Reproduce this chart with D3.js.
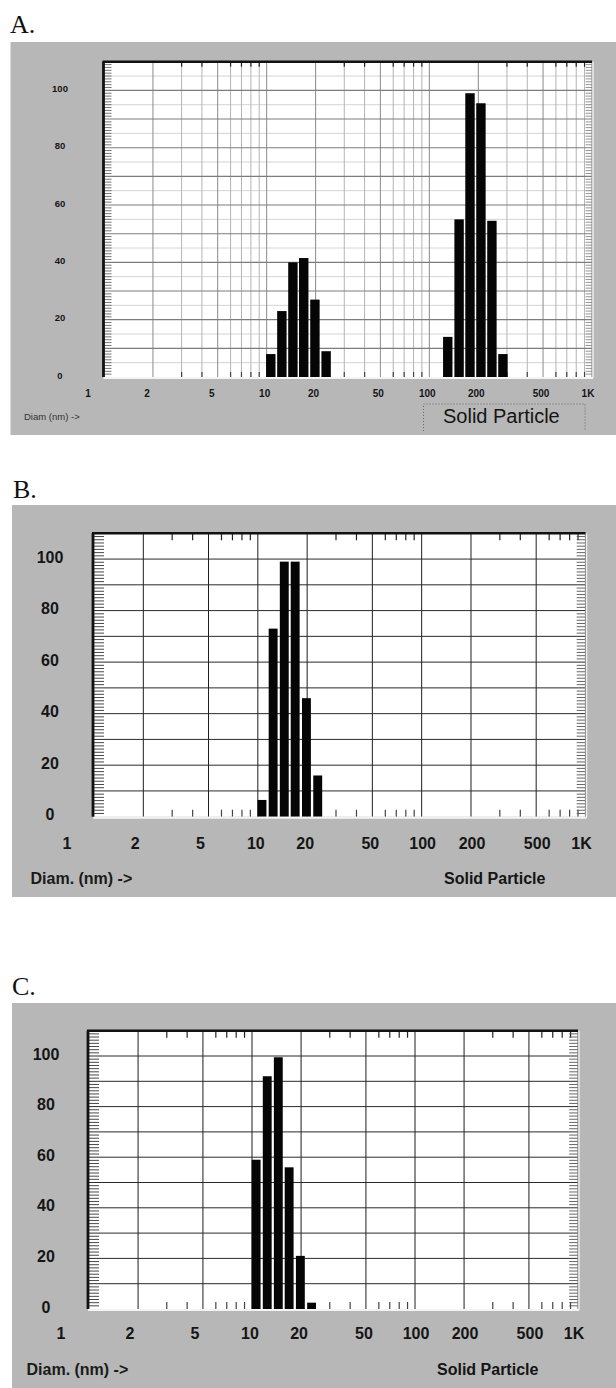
<!DOCTYPE html>
<html>
<head>
<meta charset="utf-8">
<script src="https://cdn.jsdelivr.net/npm/d3@7/dist/d3.min.js"></script>
<style>
  html, body { margin: 0; padding: 0; background: #ffffff; }
  svg { display: block; }
</style>
</head>
<body>
<script>
// ---------------- DATA ----------------
const panelTitles = ["A.", "B.", "C."];
const diamTickValues = [1, 2, 5, 10, 20, 50, 100, 200, 500, 1000];
const diamTickLabels = ["1", "2", "5", "10", "20", "50", "100", "200", "500", "1K"];
const intensityTicks = [0, 20, 40, 60, 80, 100];
const binsSmall = [10.6, 12.4, 14.5, 16.9, 19.8, 23.2];      // nm
const binsLarge = [129.8, 152.4, 177.8, 207.6, 242.5, 283.4]; // nm
const valuesA = [8, 23, 40, 41.5, 27, 9, 14, 55, 99, 95.5, 54.5, 8];
const valuesB = [6.5, 73, 99, 99, 46, 16];
const valuesC = [59, 92, 99.5, 56, 21, 2.5];
const xAxisTitleA = "Diam (nm) ->";
const xAxisTitleBC = "Diam. (nm) ->";
const modeLabel = "Solid Particle";

// ---------------- LAYOUT / STYLE ----------------
const W = 616, H = 1388;
const svg = d3.select("body").append("svg").attr("width", W).attr("height", H);
const sans = "'Liberation Sans', Arial, Helvetica, sans-serif";
const serif = "'Liberation Serif', 'Times New Roman', serif";
const grayBg = "#b7b7b7";

const binRatio = Math.pow(binsSmall[binsSmall.length - 1] / binsSmall[0], 1 / (binsSmall.length - 1));

const panels = [
  { title: panelTitles[0], titleX: 10, titleY: 33,
    box: [10.5, 42, 616, 435], plot: [103.5, 61.7, 592, 377], xr: [104, 592],
    diam: binsSmall.concat(binsLarge), vals: valuesA, style: "A",
    yLabX: 60, yLabSize: 9.5, xLabY: 397, xLabSize: 10, firstDx: -16,
    axisTitle: xAxisTitleA, axisTitleX: 24, axisTitleY: 420, axisTitleSize: 9.5,
    modeX: 443, modeY: 423, modeSize: 20, barFill: 0.85 },
  { title: panelTitles[1], titleX: 13, titleY: 498,
    box: [12, 505, 616, 897], plot: [93, 533.3, 585.5, 816.7], xr: [94, 585.5],
    diam: binsSmall, vals: valuesB, style: "B",
    yLabX: 50, yLabSize: 16, xLabY: 848.5, xLabSize: 16, firstDx: -27,
    axisTitle: xAxisTitleBC, axisTitleX: 30.5, axisTitleY: 884, axisTitleSize: 16,
    modeX: 444, modeY: 884, modeSize: 16, barFill: 0.80 },
  { title: panelTitles[2], titleX: 12, titleY: 995,
    box: [12, 1003, 616, 1388], plot: [88, 1030.7, 578, 1309], xr: [89, 578],
    diam: binsSmall, vals: valuesC, style: "C",
    yLabX: 46, yLabSize: 16, xLabY: 1339, xLabSize: 16, firstDx: -28,
    axisTitle: xAxisTitleBC, axisTitleX: 26.5, axisTitleY: 1375, axisTitleSize: 16,
    modeX: 437, modeY: 1375, modeSize: 16, barFill: 0.80 }
];

function labelDx(v, p) {
  if (v === 1) return p.firstDx;
  if (v === 2 || v === 5) return p.style === "A" ? -6 : -8;
  if (v === 1000) return -4;
  if (v >= 100 && p.style !== "A") return 1;
  return -2;
}

panels.forEach(p => {
  const g = svg.append("g");
  const [bx0, by0, bx1, by1] = p.box;
  const [px0, py0, px1, py1] = p.plot;

  // title
  g.append("text").attr("x", p.titleX).attr("y", p.titleY)
    .attr("font-family", serif).attr("font-size", 26).attr("fill", "#111")
    .text(p.title);

  // gray panel
  g.append("rect").attr("x", bx0).attr("y", by0)
    .attr("width", bx1 - bx0).attr("height", by1 - by0).attr("fill", grayBg);

  // scales
  const x = d3.scaleLog().domain([1, 1000]).range(p.xr);
  const y = d3.scaleLinear().domain([0, 110]).range([py1, py0]);

  // plot background
  g.append("rect").attr("x", px0).attr("y", py0)
    .attr("width", px1 - px0).attr("height", py1 - py0).attr("fill", "#ffffff");

  const grid = g.append("g");
  const allLogTicks = x.ticks().filter(v => v > 1 && v < 1000);
  const leading = v => Math.round(v / Math.pow(10, Math.floor(Math.log10(v) + 1e-9)));
  const majorX = diamTickValues.filter(v => v > 1 && v < 1000);

  if (p.style === "A") {
    // faint horizontal lines every 5
    d3.range(5, 110, 10).forEach(v => {
      grid.append("line").attr("x1", px0).attr("x2", px1)
        .attr("y1", y(v)).attr("y2", y(v))
        .attr("stroke", "#d4d4d4").attr("stroke-width", 1);
    });
    // vertical lines at all 1..9 multiples
    allLogTicks.forEach(v => {
      const isMajor = majorX.includes(v);
      grid.append("line").attr("x1", x(v)).attr("x2", x(v))
        .attr("y1", py0).attr("y2", py1)
        .attr("stroke", isMajor ? "#8a8a8a" : "#b4b4b4").attr("stroke-width", 1);
    });
    // horizontal every 10
    d3.range(10, 110, 10).forEach(v => {
      grid.append("line").attr("x1", px0).attr("x2", px1)
        .attr("y1", y(v)).attr("y2", y(v))
        .attr("stroke", "#7c7c7c").attr("stroke-width", 1.1);
    });
  } else {
    majorX.forEach(v => {
      grid.append("line").attr("x1", x(v)).attr("x2", x(v))
        .attr("y1", py0).attr("y2", py1)
        .attr("stroke", "#1e1e1e").attr("stroke-width", 1);
    });
    d3.range(10, 110, 10).forEach(v => {
      grid.append("line").attr("x1", px0).attr("x2", px1)
        .attr("y1", y(v)).attr("y2", y(v))
        .attr("stroke", "#2a2a2a").attr("stroke-width", 1);
    });
  }

  // minor ticks along top & bottom edges (3,4,6,7,8,9 in each decade)
  const minorX = allLogTicks.filter(v => ![1, 2, 5].includes(leading(v)));
  const tickLen = p.style === "A" ? 5 : 7;
  minorX.forEach(v => {
    grid.append("line").attr("x1", x(v)).attr("x2", x(v))
      .attr("y1", py0).attr("y2", py0 + tickLen)
      .attr("stroke", "#222").attr("stroke-width", 1.2);
    grid.append("line").attr("x1", x(v)).attr("x2", x(v))
      .attr("y1", py1).attr("y2", py1 - tickLen)
      .attr("stroke", "#444").attr("stroke-width", 1.2);
  });

  // left & right edge ticks
  const yStep = p.style === "A" ? 1 : 1.25;
  const yMinor = d3.range(0, 110 + 1e-6, yStep).filter(v => Math.abs(v / 10 - Math.round(v / 10)) > 1e-6);
  const yTickLen = p.style === "A" ? 8 : 11;
  yMinor.forEach(v => {
    grid.append("line").attr("x1", px0).attr("x2", px0 + yTickLen)
      .attr("y1", y(v)).attr("y2", y(v))
      .attr("stroke", p.style === "A" ? "#666" : "#333").attr("stroke-width", 0.9);
    grid.append("line").attr("x1", px1).attr("x2", px1 - yTickLen * 0.8)
      .attr("y1", y(v)).attr("y2", y(v))
      .attr("stroke", p.style === "A" ? "#888" : "#555").attr("stroke-width", 0.9);
  });

  // bars
  const half = Math.pow(binRatio, p.barFill / 2);
  g.append("g").selectAll("rect")
    .data(p.diam.map((d, i) => ({ d: d, v: p.vals[i] })))
    .join("rect")
    .attr("x", o => x(o.d / half))
    .attr("width", o => x(o.d * half) - x(o.d / half))
    .attr("y", o => y(o.v))
    .attr("height", o => y(0) - y(o.v))
    .attr("fill", "#050505");

  // frame (bevel)
  g.append("line").attr("x1", px1).attr("x2", px1).attr("y1", py0).attr("y2", py1)
    .attr("stroke", p.style === "A" ? "#8c8c8c" : "#777").attr("stroke-width", 1.2);
  g.append("line").attr("x1", px0).attr("x2", px1 + 1).attr("y1", py1 + 1).attr("y2", py1 + 1)
    .attr("stroke", "#f4f4f4").attr("stroke-width", 2);
  g.append("line").attr("x1", px1 + 1).attr("x2", px1 + 1).attr("y1", py0).attr("y2", py1 + 1)
    .attr("stroke", "#eeeeee").attr("stroke-width", 1.5);
  g.append("line").attr("x1", px0 - 1).attr("x2", px1).attr("y1", py0).attr("y2", py0)
    .attr("stroke", "#111").attr("stroke-width", 2.5);
  g.append("line").attr("x1", px0).attr("x2", px0).attr("y1", py0).attr("y2", py1)
    .attr("stroke", "#111").attr("stroke-width", 2.8);

  // y labels
  g.append("g").selectAll("text").data(intensityTicks).join("text")
    .attr("x", p.yLabX).attr("y", v => y(v) - 2)
    .attr("text-anchor", "middle").attr("dominant-baseline", "central")
    .attr("font-family", sans).attr("font-weight", "bold")
    .attr("font-size", p.yLabSize).attr("fill", "#151515")
    .text(v => v);

  // x labels
  g.append("g").selectAll("text").data(diamTickValues).join("text")
    .attr("x", v => x(v) + labelDx(v, p)).attr("y", p.xLabY)
    .attr("text-anchor", "middle")
    .attr("font-family", sans).attr("font-weight", "bold")
    .attr("font-size", p.xLabSize).attr("fill", "#151515")
    .text((v, i) => diamTickLabels[i]);

  // axis title
  g.append("text").attr("x", p.axisTitleX).attr("y", p.axisTitleY)
    .attr("font-family", sans).attr("font-size", p.axisTitleSize)
    .attr("font-weight", p.style === "A" ? "normal" : "bold")
    .attr("fill", p.style === "A" ? "#333" : "#1a1a1a")
    .text(p.axisTitle);

  // mode label
  if (p.style === "A") {
    g.append("path")
      .attr("d", `M423.5,431 V404 H585 V431`)
      .attr("fill", "none").attr("stroke", "#6a6a6a").attr("stroke-width", 1)
      .attr("stroke-dasharray", "1,2");
  }
  g.append("text").attr("x", p.modeX).attr("y", p.modeY)
    .attr("font-family", sans).attr("font-size", p.modeSize)
    .attr("font-weight", p.style === "A" ? "normal" : "bold")
    .attr("fill", "#141414")
    .text(modeLabel);
});
</script>
</body>
</html>
